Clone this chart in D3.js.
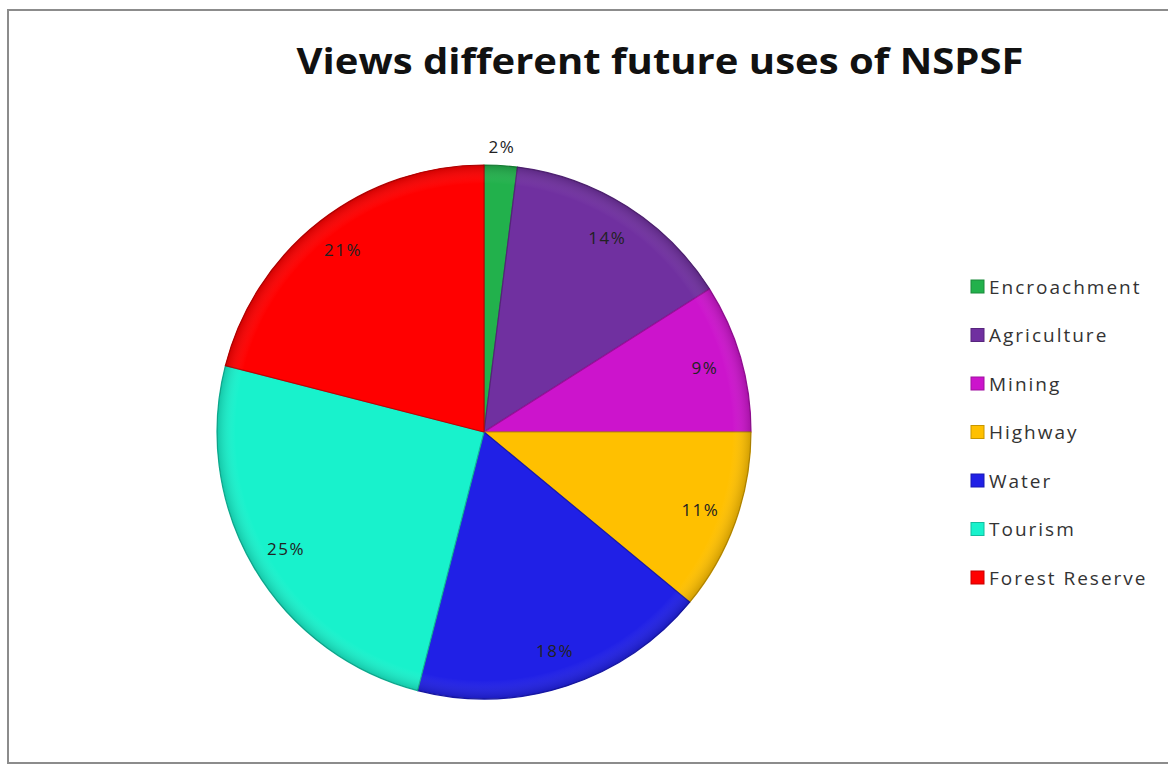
<!doctype html>
<html lang="en">
<head>
  <meta charset="UTF-8">
  <title>Views different future uses of NSPSF</title>
  <script src="https://d3js.org/d3.v7.min.js"></script>
  <style>
    body { margin: 0; background: #fff; }
  </style>
</head>
<body>
  <div id="chart"></div>
  <script type="text/javascript">
    // slices, clockwise from 12 o'clock
    var categories = ["Encroachment", "Agriculture", "Mining", "Highway", "Water", "Tourism", "Forest Reserve"];
    var shares = [2, 14, 9, 11, 18, 25, 21];
    var colours = ["#22b14c", "#7030a0", "#cc14cc", "#ffc000", "#2020e6", "#18f2cc", "#ff0000"];
    var titleText = "Views different future uses of NSPSF";

    var width = 1168, height = 765;
    var cx = 484, cy = 432, radius = 267;

    var data = categories.map(function(c, i) {
      return { name: c, value: shares[i], colour: colours[i] };
    });

    var svg = d3.select("#chart").append("svg")
      .attr("width", width)
      .attr("height", height);

    // frame of the chart area
    svg.append("rect")
      .attr("x", 8).attr("y", 10)
      .attr("width", width + 20).attr("height", height - 12)
      .attr("fill", "#fff")
      .attr("stroke", "#8c8c8c")
      .attr("stroke-width", 2);

    // title
    var title = svg.append("text")
      .attr("x", 660).attr("y", 74)
      .attr("text-anchor", "middle")
      .attr("font-family", "'Open Sans', 'Liberation Sans', sans-serif")
      .attr("font-weight", "bold")
      .attr("font-size", 35)
      .attr("fill", "#111")
      .text(titleText);
    title.attr("textLength", 727).attr("lengthAdjust", "spacingAndGlyphs");

    // light bevel for slices
    var defs = svg.append("defs");
    var grad = defs.append("radialGradient")
      .attr("id", "shade")
      .attr("gradientUnits", "userSpaceOnUse")
      .attr("cx", cx).attr("cy", cy).attr("r", radius);
    grad.append("stop").attr("offset", "0.93").attr("stop-color", "#fff").attr("stop-opacity", 0);
    grad.append("stop").attr("offset", "1").attr("stop-color", "#000").attr("stop-opacity", 0.18);

    var pie = d3.pie()
      .sort(null)
      .value(function(d) { return d.value; });

    var arc = d3.arc().innerRadius(0).outerRadius(radius);
    var labelArc = d3.arc().innerRadius(230).outerRadius(230);
    var outerLabelArc = d3.arc().innerRadius(286).outerRadius(286);

    var g = svg.append("g").attr("transform", "translate(" + cx + "," + cy + ")");

    var arcs = pie(data);

    g.selectAll("path.slice")
      .data(arcs)
      .enter()
      .append("path")
        .attr("class", "slice")
        .attr("d", arc)
        .attr("fill", function(d) { return d.data.colour; })
        .attr("stroke", function(d) { return d3.color(d.data.colour).darker(0.8); })
        .attr("stroke-width", 1.2)
        .attr("stroke-linejoin", "round");

    g.append("circle")
      .attr("r", radius)
      .attr("fill", "url(#shade)")
      .attr("transform", "translate(" + (-cx) + "," + (-cy) + ")")
      .attr("cx", cx).attr("cy", cy);

    // percentage labels
    g.selectAll("text.pct")
      .data(arcs)
      .enter()
      .append("text")
        .attr("class", "pct")
        .attr("transform", function(d) {
          var p = d.data.value < 5 ? outerLabelArc.centroid(d) : labelArc.centroid(d);
          return "translate(" + p[0] + "," + p[1] + ")";
        })
        .attr("dy", "0.35em")
        .attr("text-anchor", "middle")
        .attr("font-family", "'Open Sans', 'Liberation Sans', sans-serif")
        .attr("font-size", 17)
        .attr("letter-spacing", 1.5)
        .attr("fill", "#222")
        .text(function(d) { return d.data.value + "%"; });

    // legend
    var legendY = d3.scalePoint()
      .domain(categories)
      .range([286, 577]);

    var legend = svg.append("g");
    var rows = legend.selectAll("g")
      .data(data)
      .enter()
      .append("g")
        .attr("transform", function(d) { return "translate(971," + legendY(d.name) + ")"; });

    rows.append("rect")
      .attr("x", 0).attr("y", -6)
      .attr("width", 13).attr("height", 13)
      .attr("fill", function(d) { return d.colour; })
      .attr("stroke", function(d) { return d3.color(d.colour).darker(0.7); })
      .attr("stroke-width", 1);

    rows.append("text")
      .attr("x", 18).attr("y", 1)
      .attr("dy", "0.35em")
      .attr("font-family", "'Open Sans', 'Liberation Sans', sans-serif")
      .attr("font-size", 19)
      .attr("letter-spacing", 2)
      .attr("fill", "#333")
      .text(function(d) { return d.name; });
  </script>
</body>
</html>
